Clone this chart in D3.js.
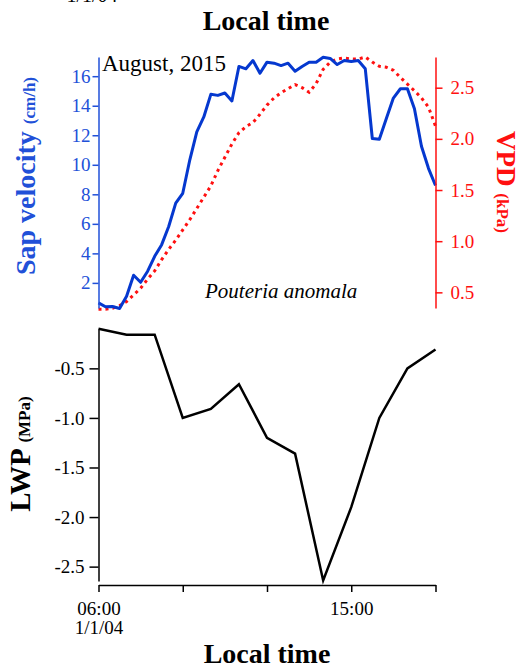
<!DOCTYPE html>
<html>
<head>
<meta charset="utf-8">
<script src="https://cdn.jsdelivr.net/npm/d3@7"></script>
<style>
  body { margin: 0; background: #fff; }
  svg text { font-family: "Liberation Serif", "Times New Roman", serif; }
</style>
</head>
<body>
<svg id="chart" width="520" height="671"></svg>
<script>
// 15 min sap flow / VPD record
const sapTimes = ["06:00","06:15","06:30","06:45","07:00","07:15","07:30","07:45",
  "08:00","08:15","08:30","08:45","09:00","09:15","09:30","09:45",
  "10:00","10:15","10:30","10:45","11:00","11:15","11:30","11:45",
  "12:00","12:15","12:30","12:45","13:00","13:15","13:30","13:45",
  "14:00","14:15","14:30","14:45","15:00","15:15","15:30","15:45",
  "16:00","16:15","16:30","16:45","17:00","17:15","17:30","17:45","18:00"];
const sapVelocity = [0.65,0.38,0.40,0.27,1.10,2.52,2.04,2.79,3.80,4.59,5.82,7.40,8.07,
  10.32,12.23,13.24,14.77,14.70,14.86,14.32,16.66,16.50,17.06,16.20,16.95,16.88,16.72,
  16.88,16.34,16.66,16.95,16.95,17.28,17.20,16.79,17.06,17.00,17.06,16.50,11.78,11.73,
  13.13,14.52,15.15,15.15,13.80,11.26,9.76,8.60];
const vpd = [0.336,0.336,0.345,0.37,0.41,0.475,0.54,0.63,0.71,0.82,0.92,1.01,1.11,1.21,
  1.32,1.43,1.54,1.69,1.82,1.95,2.06,2.12,2.16,2.24,2.33,2.40,2.45,2.49,2.53,2.50,2.455,
  2.54,2.68,2.75,2.78,2.79,2.78,2.78,2.80,2.75,2.71,2.70,2.67,2.60,2.535,2.47,2.40,2.31,2.125];

// hourly leaf water potential
const lwpTimes = ["06:00","07:00","08:00","09:00","10:00","11:00","12:00",
  "13:00","14:00","15:00","16:00","17:00","18:00"];
const lwp = [-0.10,-0.16,-0.16,-1.00,-0.91,-0.66,-1.20,-1.36,-2.64,-1.90,-1.00,-0.50,-0.31];

const sapTicks = [2,4,6,8,10,12,14,16];
const vpdTicks = [0.5,1.0,1.5,2.0,2.5];
const lwpTicks = [-0.5,-1.0,-1.5,-2.0,-2.5];
const timeTicks = ["06:00","09:00","12:00","15:00","18:00"];
const timeLabels = ["06:00","","","15:00",""];

const serif = '"Liberation Serif", "Times New Roman", serif';
const blueLine = "#0538cf";
const blueAxis = "#2150d8";
const redC = "#ff1010";

const svg = d3.select("#chart");
const parseT = d3.timeParse("%H:%M");

const x = d3.scaleTime()
  .domain([parseT("06:00"), parseT("18:00")])
  .range([98.5, 435.5]);

// top panel scales (autoscaled to data in original)
const ySap = d3.scaleLinear().domain([0.3, 17.3]).range([308, 57]);
const yVpd = d3.scaleLinear().domain([0.347, 2.8]).range([308, 57]);
// bottom panel
const yLwp = d3.scaleLinear().domain([-2.645, -0.103]).range([581, 329]);

// label cut off from the panel above
svg.append("text")
  .attr("x", 92).attr("y", 2)
  .attr("text-anchor", "middle")
  .attr("font-size", 20)
  .text("1/1/04");

svg.append("text")
  .attr("x", 266).attr("y", 30)
  .attr("text-anchor", "middle")
  .attr("font-size", 28).attr("font-weight", "bold")
  .text("Local time");

// ---- top panel ----
const vpdLine = d3.line()
  .x((d, i) => x(parseT(sapTimes[i])))
  .y(d => yVpd(d));
svg.append("path")
  .datum(vpd)
  .attr("fill", "none")
  .attr("stroke", redC)
  .attr("stroke-width", 3)
  .attr("stroke-dasharray", "3,4")
  .attr("d", vpdLine);

const sapLine = d3.line()
  .x((d, i) => x(parseT(sapTimes[i])))
  .y(d => ySap(d));
svg.append("path")
  .datum(sapVelocity)
  .attr("fill", "none")
  .attr("stroke", blueLine)
  .attr("stroke-width", 3)
  .attr("stroke-linejoin", "round")
  .attr("d", sapLine);

function styleAxis(g, color) {
  g.attr("font-family", null).attr("font-size", null);
  g.selectAll("path, line").attr("stroke", color).attr("stroke-width", 1.5);
  g.selectAll(".tick text")
    .attr("fill", color)
    .style("font-family", serif)
    .style("font-size", "19px");
}

const sapAxis = svg.append("g")
  .attr("transform", "translate(98.5,0)")
  .call(d3.axisLeft(ySap).tickValues(sapTicks).tickFormat(d3.format("d"))
    .tickSize(6).tickPadding(2).tickSizeOuter(0));
styleAxis(sapAxis, blueAxis);

const vpdAxis = svg.append("g")
  .attr("transform", "translate(435.5,0)")
  .call(d3.axisRight(yVpd).tickValues(vpdTicks).tickFormat(d => d.toFixed(1))
    .tickSize(7).tickPadding(8).tickSizeOuter(0));
styleAxis(vpdAxis, redC);

svg.append("text")
  .attr("transform", "translate(35,176) rotate(-90)")
  .attr("text-anchor", "middle")
  .attr("fill", blueAxis).attr("font-weight", "bold")
  .call(t => {
    t.append("tspan").attr("font-size", 28).text("Sap velocity ");
    t.append("tspan").attr("font-size", 17).text("(cm/h)");
  });

svg.append("text")
  .attr("transform", "translate(497,182) rotate(90)")
  .attr("text-anchor", "middle")
  .attr("fill", redC).attr("font-weight", "bold")
  .call(t => {
    t.append("tspan").attr("font-size", 27).text("VPD ");
    t.append("tspan").attr("font-size", 17).text("(kPa)");
  });

svg.append("text")
  .attr("x", 102).attr("y", 71)
  .attr("font-size", 23)
  .text("August, 2015");

svg.append("text")
  .attr("x", 205).attr("y", 298)
  .attr("font-size", 21).attr("font-style", "italic")
  .text("Pouteria anomala");

// ---- bottom panel ----
const lwpLine = d3.line()
  .x((d, i) => x(parseT(lwpTimes[i])))
  .y(d => yLwp(d));
svg.append("path")
  .datum(lwp)
  .attr("fill", "none")
  .attr("stroke", "#000")
  .attr("stroke-width", 2.5)
  .attr("d", lwpLine);

const lwpAxis = svg.append("g")
  .attr("transform", "translate(98.5,0)")
  .call(d3.axisLeft(yLwp).tickValues(lwpTicks).tickFormat(d => d.toFixed(1))
    .tickSize(9).tickPadding(5).tickSizeOuter(0));
styleAxis(lwpAxis, "#000");

const xAxis = svg.append("g")
  .attr("transform", "translate(0,585)")
  .call(d3.axisBottom(x).tickValues(timeTicks.map(parseT))
    .tickFormat((d, i) => timeLabels[i])
    .tickSize(7).tickPadding(10).tickSizeOuter(0));
styleAxis(xAxis, "#000");
xAxis.selectAll(".tick text").filter((d, i) => i === 0)
  .append("tspan").attr("x", 0).attr("dy", "1.0em").text("1/1/04");

svg.append("text")
  .attr("transform", "translate(30,454) rotate(-90)")
  .attr("text-anchor", "middle")
  .attr("font-weight", "bold")
  .call(t => {
    t.append("tspan").attr("font-size", 29).text("LWP ");
    t.append("tspan").attr("font-size", 17).text("(MPa)");
  });

svg.append("text")
  .attr("x", 267).attr("y", 663)
  .attr("text-anchor", "middle")
  .attr("font-size", 28).attr("font-weight", "bold")
  .text("Local time");
</script>
</body>
</html>
